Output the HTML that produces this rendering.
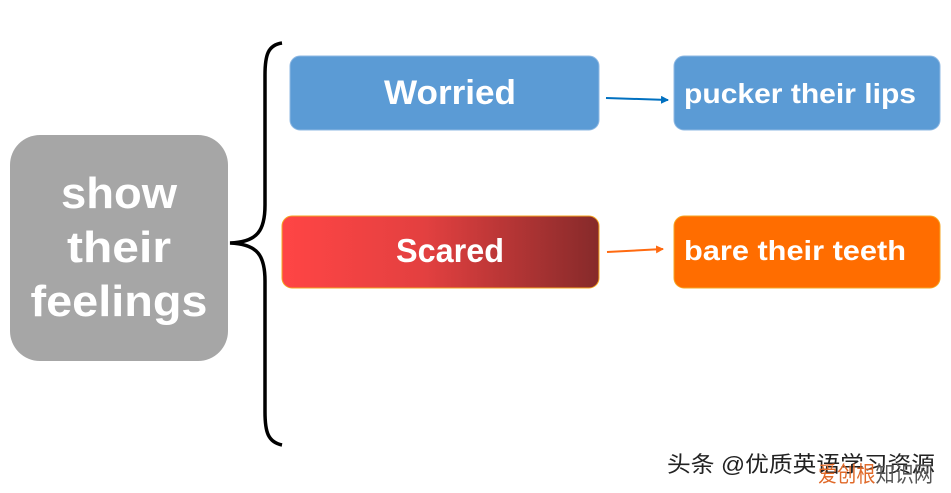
<!DOCTYPE html>
<html><head><meta charset="utf-8"><style>
html,body{margin:0;padding:0;background:#fff;width:951px;height:493px;overflow:hidden}
text{font-family:"Liberation Sans","Noto Sans CJK SC",sans-serif;font-weight:bold}
</style></head><body>
<svg width="951" height="493" viewBox="0 0 951 493" xmlns="http://www.w3.org/2000/svg">
<defs>
<linearGradient id="g" x1="0" x2="1" y1="0" y2="0">
<stop offset="0" stop-color="#ff4545"/><stop offset="0.45" stop-color="#e34040"/><stop offset="1" stop-color="#862a2a"/>
</linearGradient>
<marker id="ab" markerWidth="8" markerHeight="8" refX="7" refY="4" orient="auto" markerUnits="userSpaceOnUse"><path d="M0,0 L8,4 L0,8z" fill="#0070c0"/></marker>
<marker id="ao" markerWidth="8" markerHeight="8" refX="7" refY="4" orient="auto" markerUnits="userSpaceOnUse"><path d="M0,0 L8,4 L0,8z" fill="#ff6a10"/></marker>
</defs>
<rect x="10" y="135" width="218" height="226" rx="30" fill="#a6a6a6"/>
<text x="119" y="208" font-size="44" fill="#fff" text-anchor="middle" textLength="116" lengthAdjust="spacingAndGlyphs">show</text>
<text x="119" y="262" font-size="44" fill="#fff" text-anchor="middle" textLength="104" lengthAdjust="spacingAndGlyphs">their</text>
<text x="119" y="316" font-size="44" fill="#fff" text-anchor="middle" textLength="177" lengthAdjust="spacingAndGlyphs">feelings</text>
<path d="M282,43 C268,45 265,55 265,75 L265,205 C265,230 258,242 230,243 C258,244 265,256 265,281 L265,412 C265,432 268,442 282,445" fill="none" stroke="#000" stroke-width="3.5"/>
<rect x="290" y="56" width="309" height="74" rx="10" fill="#5b9bd5" stroke="#8fb9e3" stroke-width="1"/>
<text x="450" y="104" font-size="34" fill="#fff" text-anchor="middle" textLength="132" lengthAdjust="spacingAndGlyphs">Worried</text>
<line x1="606" y1="98" x2="668" y2="100" stroke="#0070c0" stroke-width="2" marker-end="url(#ab)"/>
<rect x="674" y="56" width="266" height="74" rx="10" fill="#5b9bd5" stroke="#8fb9e3" stroke-width="1"/>
<text x="684" y="103" font-size="28" fill="#fff" textLength="232" lengthAdjust="spacingAndGlyphs">pucker their lips</text>
<rect x="282" y="216" width="317" height="72" rx="10" fill="url(#g)" stroke="#f5a623" stroke-width="1"/>
<text x="450" y="262" font-size="33" fill="#fff" text-anchor="middle" textLength="108" lengthAdjust="spacingAndGlyphs">Scared</text>
<line x1="607" y1="252" x2="663" y2="249" stroke="#ff6a10" stroke-width="2" marker-end="url(#ao)"/>
<rect x="674" y="216" width="266" height="72" rx="10" fill="#ff6d00" stroke="#f5a623" stroke-width="1"/>
<text x="684" y="260" font-size="28" fill="#fff" textLength="222" lengthAdjust="spacingAndGlyphs">bare their teeth</text>
<text x="667" y="472" font-size="22" fill="#222" style="font-weight:normal" textLength="268" lengthAdjust="spacingAndGlyphs">头条 @优质英语学习资源</text>
<text x="818" y="482" font-size="22" fill="#e06a2a" style="font-weight:normal" textLength="115" lengthAdjust="spacingAndGlyphs">爱创根<tspan fill="#555">知识网</tspan></text>
</svg>
</body></html>
